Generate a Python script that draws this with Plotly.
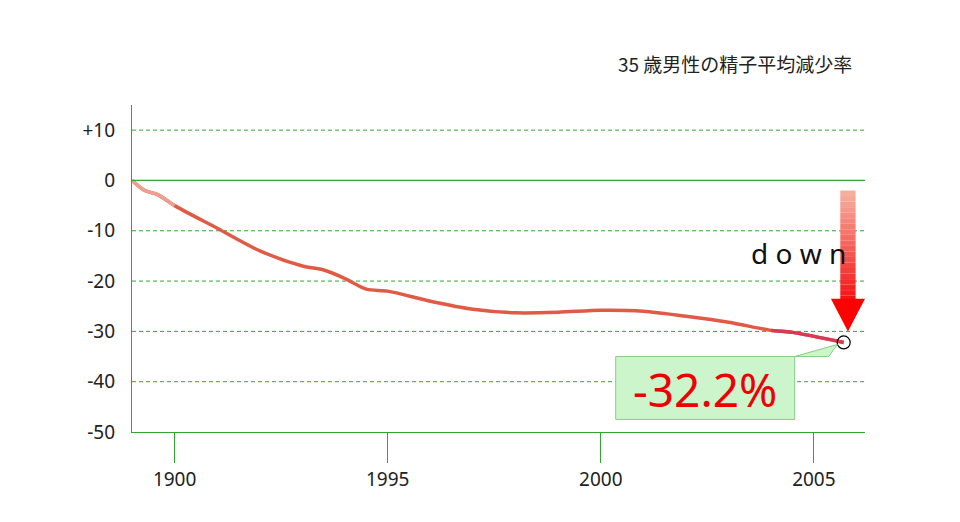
import plotly.graph_objects as go

years = [1989.0, 1989.3, 1989.6, 1990.0, 1991.0, 1992.0, 1993.0, 1993.5, 1994.0, 1994.5, 1995.0,
         1996.0, 1997.0, 1998.0, 1999.0, 2000.0, 2001.0, 2002.0, 2003.0, 2004.0, 2004.5, 2005.7]
change = [0.0, -2.0, -2.8, -5.0, -9.5, -14.0, -17.0, -17.8, -19.5, -21.6, -22.0,
          -24.0, -25.6, -26.3, -26.2, -25.8, -26.0, -27.0, -28.2, -29.8, -30.2, -32.2]
xtick_vals = [1990, 1995, 2000, 2005]
xtick_text = ["1900", "1995", "2000", "2005"]
ytick_vals = [10, 0, -10, -20, -30, -40, -50]
ytick_text = ["+10", "0", "-10", "-20", "-30", "-40", "-50"]
final_label = "-32.2%"
title = "35 歳男性の精子平均減少率"

def mix(c1, c2, t):
    return "rgb(%d,%d,%d)" % tuple(round(a + (b - a) * t) for a, b in zip(c1, c2))

fig = go.Figure()
fig.add_trace(go.Scatter(x=years, y=change, mode="lines",
                         line=dict(color="#e05a45", width=3.5, shape="spline", smoothing=0.8),
                         showlegend=False, hoverinfo="skip"))
fig.add_trace(go.Scatter(x=years[:4], y=change[:4], mode="lines",
                         line=dict(color="#eea090", width=3.5, shape="spline", smoothing=0.8),
                         showlegend=False, hoverinfo="skip"))
fig.add_trace(go.Scatter(x=years[-3:], y=change[-3:], mode="lines",
                         line=dict(color="#d83a55", width=3.5, shape="spline", smoothing=0.8),
                         showlegend=False, hoverinfo="skip"))
fig.add_trace(go.Scatter(x=[years[-1]], y=[change[-1]], mode="markers",
                         marker=dict(size=13, color="rgba(0,0,0,0)", line=dict(color="black", width=1.2)),
                         showlegend=False))

green = "#2fa82f"
shapes = []
for g in [10, -10, -20, -30, -40]:
    shapes.append(dict(type="line", xref="paper", x0=0, x1=1, yref="y", y0=g, y1=g,
                       line=dict(color=green, width=1, dash="4px,3px"), layer="below"))
shapes.append(dict(type="line", xref="paper", x0=0, x1=1, yref="y", y0=0, y1=0, line=dict(color=green, width=1.3)))
steps = 20
top, bot = -2.0, -24.0
for k in range(steps):
    y0 = top + (bot - top) * k / steps
    y1 = top + (bot - top) * (k + 1) / steps
    shapes.append(dict(type="rect", x0=2005.62, x1=2005.98, y0=y0, y1=y1, line=dict(width=0),
                       fillcolor=mix((245, 175, 160), (245, 20, 20), k / (steps - 1))))
shapes.append(dict(type="path", path="M 2005.4 -23.5 L 2006.2 -23.5 L 2005.8 -30 Z",
                   fillcolor="#ff0000", line=dict(width=0)))
shapes.append(dict(type="path", path="M 2000.35 -35 L 2005.35 -35 L 2005.55 -32.6 L 2004.55 -35 L 2004.55 -37 L 2004.55 -47.5 L 2000.35 -47.5 Z",
                   fillcolor="#ccf5cc", line=dict(color="#88cc88", width=1)))

fig.update_layout(
    width=960, height=522, paper_bgcolor="white", plot_bgcolor="white",
    margin=dict(l=124, r=103, t=97, b=98),
    font=dict(family="Noto Sans, Noto Sans CJK JP", size=19, color="#222"),
    shapes=shapes,
    xaxis=dict(range=[1989.0, 2006.2], tickvals=xtick_vals, ticktext=xtick_text, showgrid=False,
               showline=True, linecolor=green, linewidth=1.3, ticks="outside", ticklen=30,
               tickcolor=green, zeroline=False, automargin=False),
    yaxis=dict(range=[-50, 15], tickvals=ytick_vals, ticktext=ytick_text, showgrid=False,
               showline=True, linecolor=green, linewidth=1.3, ticks="", zeroline=False,
               ticklabelstandoff=12, automargin=False),
    annotations=[
        dict(text=title, xref="paper", yref="paper", x=0.985, y=1.08, xanchor="right", yanchor="bottom",
             showarrow=False, font=dict(size=19, family="Noto Sans CJK JP")),
        dict(text="d o w n", x=2004.65, y=-14.5, showarrow=False, font=dict(size=28, color="#111"),
             xanchor="center"),
        dict(text=final_label, x=2002.45, y=-41.5, showarrow=False, font=dict(size=46, color="#ee0000")),
    ],
)
fig.write_html("out.html")
